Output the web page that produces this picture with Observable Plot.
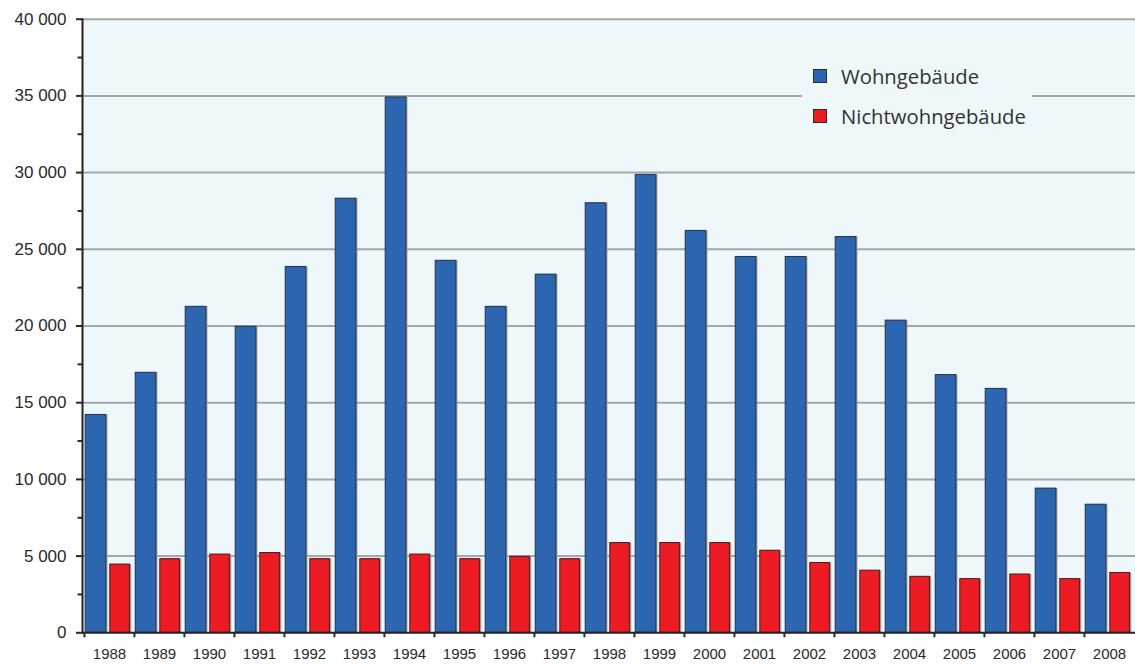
<!DOCTYPE html>
<html>
<head>
<meta charset="utf-8">
<script src="https://cdn.jsdelivr.net/npm/d3@7"></script>
<script src="https://cdn.jsdelivr.net/npm/@observablehq/plot@0.6"></script>
<style>
  html, body { margin: 0; padding: 0; background: #ffffff; }
  #wrap { position: relative; width: 1135px; height: 664px; }
  #wrap svg { display: block; }
  .legend { position: absolute; left: 802px; top: 56px; width: 230px; height: 80px; background: #eef7fa; font-family: "Open Sans", sans-serif; font-size: 20.3px; color: #333; }
  .legend .row { position: absolute; left: 11px; display: flex; align-items: center; height: 24px; }
  .legend .sw { width: 12px; height: 12px; border: 1px solid #2a2a2a; margin-right: 14px; }
</style>
</head>
<body>
<div id="wrap"></div>
<script>
const years = [1988, 1989, 1990, 1991, 1992, 1993, 1994, 1995, 1996, 1997, 1998, 1999, 2000, 2001, 2002, 2003, 2004, 2005, 2006, 2007, 2008];
const wohngebaeude = [14200, 16950, 21250, 19950, 23850, 28300, 34900, 24250, 21250, 23350, 28000, 29850, 26200, 24500, 24500, 25800, 20350, 16800, 15900, 9400, 8350];
const nichtwohngebaeude = [4450, 4800, 5100, 5200, 4800, 4800, 5100, 4800, 4950, 4800, 5850, 5850, 5850, 5350, 4550, 4050, 3650, 3500, 3800, 3500, 3900];
const seriesNames = ["Wohngebäude", "Nichtwohngebäude"];
const seriesColors = ["#2c66b1", "#ed1c24"];
const majorTicks = [0, 5000, 10000, 15000, 20000, 25000, 30000, 35000, 40000];
const minorTicks = [2500, 7500, 12500, 17500, 22500, 27500, 32500, 37500];

const rows = years.map((year, i) => ({year, wohn: wohngebaeude[i], nicht: nichtwohngebaeude[i]}));
const fmt = d => d3.format(",")(d).replace(/,/g, " ");

const W = 1135, ML = 82, MR = 0;
const band = (W - ML - MR) / years.length;

const chart = Plot.plot({
  width: W,
  height: 664,
  marginLeft: ML,
  marginRight: MR,
  marginTop: 18.7,
  marginBottom: 31.7,
  style: {fontFamily: "'Liberation Sans', Arial, sans-serif", background: "#ffffff", color: "#2a2a2a"},
  x: {type: "band", domain: years, padding: 0, label: null},
  y: {domain: [0, 40000], label: null},
  marks: [
    Plot.frame({fill: "#eef7fa", stroke: null}),
    Plot.gridY(majorTicks.filter(d => d > 0), {stroke: "#a3a7ab", strokeOpacity: 1, strokeWidth: 2}),
    // subtle shadows
    Plot.barY(rows, {x: "year", y: "wohn", fill: "#9c9c9c", insetLeft: 2.6, insetRight: band - 22 - 1.6}),
    Plot.barY(rows, {x: "year", y: "nicht", fill: "#9c9c9c", insetLeft: 27, insetRight: 4.1 - 1.4}),
    Plot.barY(rows, {x: "year", y: "wohn", fill: seriesColors[0], stroke: "#26324a", strokeWidth: 1, insetLeft: 1.2, insetRight: band - 22}),
    Plot.barY(rows, {x: "year", y: "nicht", fill: seriesColors[1], stroke: "#4a1c1c", strokeWidth: 1, insetLeft: 25.8, insetRight: 4.6}),
    Plot.ruleY([0], {stroke: "#222", strokeWidth: 2}),
    Plot.frame({anchor: "left", stroke: "#222", strokeWidth: 2}),
    Plot.axisY(majorTicks, {tickSize: 6, tickPadding: 10, tickFormat: fmt, fontSize: 17, strokeWidth: 2, color: "#2a2a2a", label: null}),
    Plot.axisY(minorTicks, {tickSize: 4.5, tickFormat: () => "", strokeWidth: 2, color: "#2a2a2a", label: null}),
    Plot.axisX({tickSize: 0, tickPadding: 16, fontSize: 15, tickFormat: d => String(d), color: "#2a2a2a", label: null}),
    Plot.axisX({tickSize: 5, tickFormat: () => "", strokeWidth: 2, dx: -band / 2, color: "#2a2a2a", label: null})
  ]
});

const wrap = document.getElementById("wrap");
wrap.appendChild(chart);

const legend = document.createElement("div");
legend.className = "legend";
seriesNames.forEach((name, i) => {
  const row = document.createElement("div");
  row.className = "row";
  row.style.top = (8 + i * 40) + "px";
  const sw = document.createElement("div");
  sw.className = "sw";
  sw.style.background = seriesColors[i];
  const label = document.createElement("span");
  label.textContent = name;
  row.appendChild(sw);
  row.appendChild(label);
  legend.appendChild(row);
});
wrap.appendChild(legend);
</script>
</body>
</html>
